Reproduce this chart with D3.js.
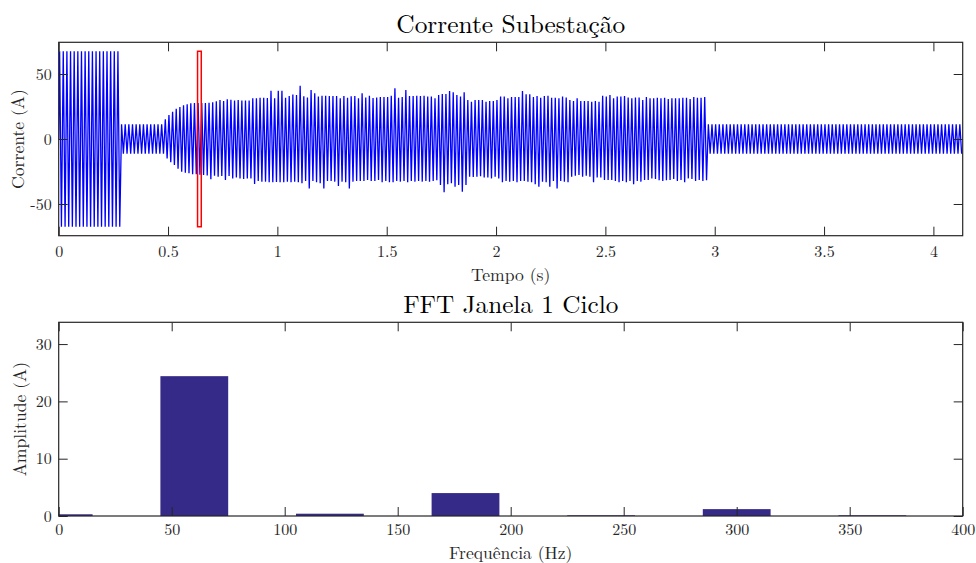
<!DOCTYPE html>
<html>
<head>
<meta charset="utf-8">
<script src="https://cdn.jsdelivr.net/npm/d3@7"></script>
<style>
  body { margin: 0; background: #fff; }
</style>
</head>
<body>
<svg id="chart" width="976" height="563"></svg>
<script>
// ---- data ----
const cycleHz = 60;

// steady parts: number of cycles and peak value (A)
const preCycles = 17;
const prePeak = 67.5;
const lowCycles = 12;
const lowPeak = 11.3;
const postCycles = 70;
const postPeak = 11.3;

// disturbance: positive and negative peak of each cycle (A)
const eventPeaks = [
  15.1, 18.5, 21, 23.3, 24.6, 25.9, 26.7, 27.4, 27.7, 27.7, 27.7, 27.7, 27.9, 28.2, 29, 30, 29.2, 30.5,
  30.2, 29.7, 30, 29.7, 29.7, 29.7, 31.3, 31.3, 31.8, 31.8, 31.5, 37.2, 31.3, 37.2, 37.2, 31.8, 33, 34.3,
  33.8, 41, 32.8, 32, 37.7, 35.1, 32.6, 33.3, 33.3, 33.1, 33.1, 33.1, 31.3, 33.1, 31.8, 32.8, 33.1, 31.3,
  35.1, 32, 33.3, 31.5, 32, 32.3, 32.3, 32.3, 33.3, 39, 31.8, 32.3, 37.7, 33.1, 33.1, 33.3, 33.1, 33.3,
  32.6, 32.6, 31.3, 33.8, 34.6, 34.6, 36.9, 35.9, 33.8, 32.6, 35.9, 30, 28.7, 30, 30, 30, 28.7, 29.2, 29.2,
  30, 32.6, 32.6, 31.3, 32.3, 32.3, 32.3, 36.9, 34.4, 34.4, 32.3, 33.1, 31.8, 33, 33.3, 31.8, 31.8, 31.3, 32.6,
  32, 30, 29.2, 31.3, 29.2, 29.2, 29.2, 28.7, 29.2, 28.7, 33.3, 32.6, 33.8, 31.3, 32.6, 32.6, 33.1, 32, 31.3,
  32, 32, 30, 32.3, 31.3, 31.3, 31.8, 31.3, 31.8, 30.8, 31.3, 31.3, 31.3, 31.8, 31.8, 30.8, 32.3, 31.8, 31.8, 32.3
];
const eventTroughs = [
  -14.9, -17.9, -20, -22.8, -25.1, -25.9, -26.4, -27.2, -27.2, -27.5, -27.7, -28, -31, -28.2, -29, -28.5, -31.5, -28.5,
  -30.3, -29.7, -30.3, -30.8, -30.3, -30.3, -34.6, -32.3, -32.8, -32.8, -33.3, -33.3, -33, -33.3, -33.3, -32.8, -33.3, -32.8,
  -33.3, -34.1, -32.3, -38, -32.3, -33.3, -34.1, -38, -32.3, -32.3, -32.8, -36.2, -32.8, -33.3, -38, -32.8, -32.3, -32.3,
  -32.3, -31.5, -32.3, -32.3, -31.5, -33.3, -32.3, -33.3, -33.3, -32.3, -32.8, -32.3, -33.3, -32.3, -32.8, -32.3, -32.8, -32.3,
  -32.8, -32.3, -31.8, -35.4, -41, -34.9, -34.1, -36.7, -35.4, -40.5, -35.4, -29, -29.2, -29, -28.7, -29.7, -29.7, -30.3, -29,
  -30.3, -33.3, -32.3, -32.8, -32.3, -33.3, -32.3, -32.3, -32.8, -33.3, -34.9, -36.7, -32.8, -33.3, -36.7, -32.3, -38, -32.3, -32.8,
  -33.3, -29, -28.2, -27.7, -29, -28.2, -29, -33.3, -29.7, -29.7, -31.5, -31.5, -31.5, -32.3, -33.3, -32.3, -33.3, -32.3, -34.9,
  -32.3, -32.8, -31.5, -31.5, -30.3, -30.8, -31.8, -32.3, -31.8, -31.5, -30.8, -32.3, -31.5, -33.3, -30.3, -30.8, -32.3, -31.5, -32.3, -31.8
];

// one-cycle FFT window shown on the waveform
const windowStart = 0.635;
const windowEnd = 0.652;
const windowPeak = 67.5;

// FFT of the window
const fftFreqs = [0, 60, 120, 180, 240, 300, 360];
const fftAmps = [0.3, 24.4, 0.4, 4.0, 0.12, 1.2, 0.12];
const fftBarWidth = 30;

const timeTicks = [0, 0.5, 1, 1.5, 2, 2.5, 3, 3.5, 4];
const currentTicks = [-50, 0, 50];
const freqTicks = [0, 50, 100, 150, 200, 250, 300, 350, 400];
const ampTicks = [0, 10, 20, 30];

// ---- layout ----
const left = 58.7, right = 962.7;
const top1 = 42.3, bottom1 = 235.7;
const top2 = 322.3, bottom2 = 516;
const tickLen = 9;
const axisColor = "#262626";
const font = '"Latin Modern Roman", "Liberation Serif", serif';

const svg = d3.select("#chart");

const xTime = d3.scaleLinear().domain([0, 4.134]).range([left, right]);
const yCur = d3.scaleLinear().domain([-74.4, 74.4]).range([bottom1, top1]);
const xFreq = d3.scaleLinear().domain([0, 400]).range([left, right]);
const yAmp = d3.scaleLinear().domain([0, 33.8]).range([bottom2, top2]);

const fmt = d => String(d);

// build the waveform: one positive and one negative peak per cycle
const peaks = [], troughs = [];
for (let i = 0; i < preCycles; i++) { peaks.push(prePeak); troughs.push(-prePeak); }
for (let i = 0; i < lowCycles; i++) { peaks.push(lowPeak); troughs.push(-lowPeak); }
eventPeaks.forEach((p, i) => { peaks.push(p); troughs.push(eventTroughs[i]); });
for (let i = 0; i < postCycles; i++) { peaks.push(postPeak); troughs.push(-postPeak); }

const wave = [[0, 0]];
peaks.forEach((p, k) => {
  wave.push([(k + 0.25) / cycleHz, p]);
  wave.push([(k + 0.75) / cycleHz, troughs[k]]);
});

// clip paths
const defs = svg.append("defs");
defs.append("clipPath").attr("id", "clip1").append("rect")
  .attr("x", left).attr("y", top1).attr("width", right - left).attr("height", bottom1 - top1);
defs.append("clipPath").attr("id", "clip2").append("rect")
  .attr("x", left).attr("y", top2).attr("width", right - left).attr("height", bottom2 - top2);

function drawAxes(x, y, xTicks, yTicks, top, bottom, xPad) {
  const g = svg.append("g");
  g.append("g")
    .attr("transform", `translate(0,${bottom})`)
    .call(d3.axisBottom(x).tickValues(xTicks).tickFormat(fmt).tickSizeInner(-tickLen).tickSizeOuter(0).tickPadding(xPad))
    .call(a => a.select(".domain").remove());
  g.append("g")
    .attr("transform", `translate(0,${top})`)
    .call(d3.axisTop(x).tickValues(xTicks).tickFormat("").tickSizeInner(-tickLen).tickSizeOuter(0))
    .call(a => a.select(".domain").remove());
  g.append("g")
    .attr("transform", `translate(${left},0)`)
    .call(d3.axisLeft(y).tickValues(yTicks).tickFormat(fmt).tickSizeInner(-tickLen).tickSizeOuter(0).tickPadding(7))
    .call(a => a.select(".domain").remove());
  g.append("g")
    .attr("transform", `translate(${right},0)`)
    .call(d3.axisRight(y).tickValues(yTicks).tickFormat("").tickSizeInner(-tickLen).tickSizeOuter(0))
    .call(a => a.select(".domain").remove());
  g.selectAll(".tick line").attr("stroke", axisColor).attr("stroke-width", 1);
  g.selectAll(".tick text")
    .attr("fill", axisColor)
    .style("font-family", font)
    .style("font-size", "16px");
  g.append("rect")
    .attr("x", left).attr("y", top)
    .attr("width", right - left).attr("height", bottom - top)
    .attr("fill", "none").attr("stroke", axisColor).attr("stroke-width", 1.2);
  return g;
}

// ---- top: current waveform ----
svg.append("path")
  .datum(wave)
  .attr("clip-path", "url(#clip1)")
  .attr("fill", "none")
  .attr("stroke", "#0000ff")
  .attr("stroke-width", 1.3)
  .attr("d", d3.line().x(d => xTime(d[0])).y(d => yCur(d[1])));

svg.append("rect")
  .attr("x", xTime(windowStart))
  .attr("y", yCur(windowPeak))
  .attr("width", xTime(windowEnd) - xTime(windowStart))
  .attr("height", yCur(-windowPeak) - yCur(windowPeak))
  .attr("fill", "none")
  .attr("stroke", "#ff0000")
  .attr("stroke-width", 1.5);

drawAxes(xTime, yCur, timeTicks, currentTicks, top1, bottom1, 9.5);

// ---- bottom: FFT bars ----
svg.append("g")
  .attr("clip-path", "url(#clip2)")
  .selectAll("rect")
  .data(fftFreqs)
  .join("rect")
  .attr("x", f => xFreq(f - fftBarWidth / 2))
  .attr("width", f => xFreq(f + fftBarWidth / 2) - xFreq(f - fftBarWidth / 2))
  .attr("y", (f, i) => yAmp(fftAmps[i]))
  .attr("height", (f, i) => yAmp(0) - yAmp(fftAmps[i]))
  .attr("fill", "#352a87");

drawAxes(xFreq, yAmp, freqTicks, ampTicks, top2, bottom2, 8);

// ---- titles and labels ----
const midX = (left + right) / 2;
function label(txt, size, fill) {
  return svg.append("text")
    .attr("text-anchor", "middle")
    .attr("fill", fill || axisColor)
    .style("font-family", font)
    .style("font-size", size + "px")
    .text(txt);
}
label("Corrente Subestação", 25.4, "#000").attr("x", midX).attr("y", 32.5);
label("FFT Janela 1 Ciclo", 25.2, "#000").attr("x", midX).attr("y", 313);
label("Tempo (s)", 17.6).attr("x", midX).attr("y", 280.5);
label("Frequência (Hz)", 17.6).attr("x", midX).attr("y", 558.8);
label("Corrente (A)", 17.6).attr("transform", `translate(23.5,${(top1 + bottom1) / 2}) rotate(-90)`);
label("Amplitude (A)", 17.6).attr("transform", `translate(26,${(top2 + bottom2) / 2}) rotate(-90)`);
</script>
</body>
</html>
